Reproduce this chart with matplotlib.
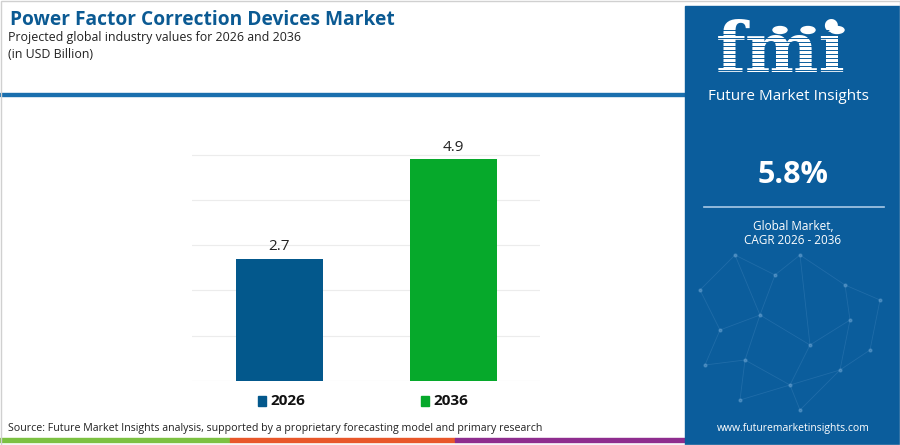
import matplotlib.pyplot as plt
from matplotlib.patches import Rectangle, Circle

plt.rcParams['font.family'] = ['Open Sans', 'DejaVu Sans']

# 数据
years = ['2026', '2036']
values = [2.7, 4.9]
bar_colors = ['#03588c', '#06a92b']
cagr = '5.8%'

blue = '#0b5d9c'
title_color = '#0b5a93'

fig = plt.figure(figsize=(9, 4.45), dpi=100)
fig.patch.set_facecolor('white')

# 柱状图区域
ax = fig.add_axes([192 / 900, 1 - 381 / 445, (540 - 192) / 900, (381 - 150) / 445])
ax.bar(range(len(years)), values, width=0.5, color=bar_colors, zorder=3)
for i, v in enumerate(values):
    ax.text(i, v + 0.1, f'{v}', ha='center', va='bottom', fontsize=11, color='#222222')
ax.set_xlim(-0.5, 1.5)
ax.set_ylim(0, 5.1)
ax.set_yticks([0, 1, 2, 3, 4, 5])
ax.yaxis.grid(True, color='#ececec', linewidth=0.8, zorder=0)
ax.set_xticks([])
ax.tick_params(left=False, labelleft=False)
for s in ax.spines.values():
    s.set_visible(False)

# 图例
for x0, yr, c in [(258, years[0], bar_colors[0]), (421, years[1], bar_colors[1])]:
    fig.patches.append(Rectangle((x0 / 900, 1 - 406 / 445), 8 / 900, 10 / 445,
                                 transform=fig.transFigure, color=c))
    fig.text((x0 + 12) / 900, 1 - 401 / 445, yr, fontsize=11, fontweight='bold',
             va='center', ha='left', color='#111111')

# 标题
fig.text(10 / 900, 1 - 20 / 445, 'Power Factor Correction Devices Market', fontsize=13.8,
         fontweight='bold', color=title_color, va='center')
fig.text(8 / 900, 1 - 38 / 445, 'Projected global industry values for 2026 and 2036',
         fontsize=8.9, color='#222222', va='center')
fig.text(8 / 900, 1 - 55 / 445, '(in USD Billion)', fontsize=8.9, color='#222222', va='center')

# 分隔线
fig.patches.append(Rectangle((0, 1 - 96 / 445), 685 / 900, 3 / 445,
                             transform=fig.transFigure, color='#1a6fae'))

# 来源
fig.text(8 / 900, 1 - 429 / 445,
         'Source: Future Market Insights analysis, supported by a proprietary forecasting model and primary research',
         fontsize=7.7, color='#222222', va='center')

# 底部彩条
for x0, x1, c in [(0, 230, '#7cc142'), (230, 455, '#e8572a'), (455, 685, '#8e2d8e')]:
    fig.patches.append(Rectangle((x0 / 900, 1 - 442 / 445), (x1 - x0) / 900, 4 / 445,
                                 transform=fig.transFigure, color=c))

# 右侧面板
fig.patches.append(Rectangle((685 / 900, 0), 215 / 900, 1 - 6 / 445,
                             transform=fig.transFigure, color=blue))

# 背景网络装饰
net_x = [700, 735, 775, 800, 845, 880, 720, 760, 810, 850, 705, 745, 790, 840, 870, 740, 800]
net_y = [290, 255, 275, 255, 285, 300, 330, 315, 345, 320, 365, 360, 385, 370, 350, 400, 410]
links = [(0, 1), (1, 2), (2, 3), (3, 4), (4, 5), (0, 6), (6, 7), (7, 2), (7, 8), (8, 9), (9, 4),
         (6, 10), (10, 11), (11, 7), (11, 12), (12, 8), (12, 13), (13, 9), (13, 14), (14, 5),
         (11, 15), (15, 12), (12, 16), (16, 13), (1, 7), (3, 8)]
for a, b in links:
    fig.lines.append(plt.Line2D([net_x[a] / 900, net_x[b] / 900], [1 - net_y[a] / 445, 1 - net_y[b] / 445],
                                transform=fig.transFigure, color='#4f8fc4', alpha=0.3, linewidth=0.6))
fig.lines.append(plt.Line2D([x / 900 for x in net_x], [1 - y / 445 for y in net_y], transform=fig.transFigure,
                            linestyle='none', marker='o', markersize=2, color='#6ea6d4', alpha=0.45))

# 徽标
fig.text(781 / 900, 1 - 52 / 445, 'fmi', fontsize=50, fontweight='bold', family='DejaVu Serif',
         color='white', ha='center', va='center', zorder=3)
for yy in range(30, 82, 4):
    fig.lines.append(plt.Line2D([715 / 900, 850 / 900], [1 - yy / 445, 1 - yy / 445],
                                transform=fig.transFigure, color=blue, linewidth=0.7, zorder=4))
for cx in [780, 808, 837]:
    fig.patches.append(Circle((cx / 900, 1 - 30 / 445), 7 / 900, transform=fig.transFigure,
                              color='white', zorder=5))
fig.text(788 / 900, 1 - 97 / 445, 'Future Market Insights', fontsize=11, color='white',
         ha='center', va='center')

fig.text(793 / 900, 1 - 175 / 445, cagr, fontsize=22, fontweight='bold', color='white',
         ha='center', va='center')
fig.lines.append(plt.Line2D([704 / 900, 884 / 900], [1 - 207 / 445, 1 - 207 / 445],
                            transform=fig.transFigure, color='#a9c9e6', linewidth=1.2))
fig.text(793 / 900, 1 - 226 / 445, 'Global Market,', fontsize=8.5, color='white',
         ha='center', va='center')
fig.text(793 / 900, 1 - 240 / 445, 'CAGR 2026 - 2036', fontsize=8.5, color='white',
         ha='center', va='center')
fig.text(793 / 900, 1 - 428 / 445, 'www.futuremarketinsights.com', fontsize=7.5, color='white',
         ha='center', va='center')

# 外框
fig.patches.append(Rectangle((0.5 / 900, 0.5 / 445), 899 / 900, 444 / 445, transform=fig.transFigure,
                             fill=False, edgecolor='#d0d0d0', linewidth=1))

fig.savefig('out.png', dpi=100)
